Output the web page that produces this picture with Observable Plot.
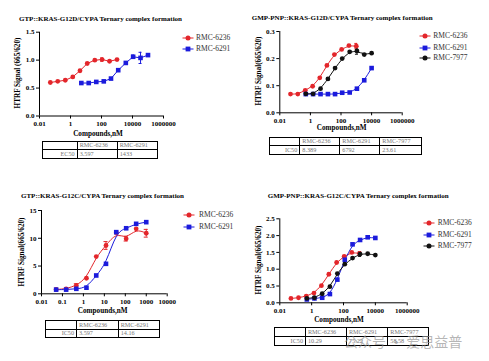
<!DOCTYPE html>
<html><head><meta charset="utf-8">
<script src="https://cdn.jsdelivr.net/npm/d3@7"></script>
<script src="https://cdn.jsdelivr.net/npm/@observablehq/plot@0.6"></script>
<style>
body{margin:0;background:#fff}
#root{position:relative;width:489px;height:361px;overflow:hidden;background:#fff;font-family:"Liberation Serif",serif;color:#000}
.t{position:absolute;white-space:nowrap;line-height:1}
.title{font-weight:bold;font-size:7px}
.axl{font-weight:bold;font-size:7.2px}
.leg{font-size:7.5px;color:#333}
.wm{font-family:"Noto Sans CJK SC",sans-serif;font-size:14px;color:rgba(150,150,150,0.7)}
table.tb{position:absolute;border-collapse:collapse;table-layout:fixed;font-size:6.2px;color:#777}
table.tb td{border:1px solid #000;padding:0 2px;line-height:1;white-space:nowrap;overflow:hidden}
table.tb td.first{text-align:right}
svg.plot{position:absolute}
</style></head>
<body><div id="root"></div>
<script>
// concentrations (nM)
const concA = [0.05, 0.15, 0.46, 1.4, 4.1, 12, 37, 110, 330, 1000];
const concB = [0.5, 1.5, 4.6, 14, 41, 120, 370, 1100, 3300, 10000];
const concC = [5, 15, 46, 140, 410, 1200, 3700, 11000, 33000, 100000];
const xTicksWide = [0.01, 1, 100, 10000, 1000000];
const xTicksNarrow = [0.01, 0.1, 1, 10, 100, 1000, 10000];
const names = ["RMC-6236", "RMC-6291", "RMC-7977"];

// Panel 1: GTP::KRAS-G12D/CYPA
const p1_6236 = [0.60, 0.62, 0.64, 0.70, 0.81, 0.94, 1.00, 1.01, 0.98, 1.01];
const p1_6236_err = [0, 0, 0, 0, 0, 0, 0, 0.03, 0, 0];
const p1_6291 = [0.59, 0.59, 0.61, 0.62, 0.67, 0.82, 0.95, 1.06, 1.04, 1.09];
const p1_6291_err = [0, 0, 0, 0, 0, 0, 0, 0.03, 0.1, 0];
const p1_yTicks = [0, 0.5, 1.0, 1.5];
const p1_table = [["", "RMC-6236", "RMC-6291"], ["EC50", "3.597", "1433"]];

// Panel 2: GMP-PNP::KRAS-G12D/CYPA
const p2_6236 = [0.069, 0.069, 0.083, 0.098, 0.129, 0.175, 0.215, 0.234, 0.248, 0.246];
const p2_6236_err = [0, 0, 0, 0, 0, 0, 0, 0, 0, 0.01];
const p2_6291 = [0.069, 0.069, 0.069, 0.069, 0.069, 0.074, 0.075, 0.089, 0.12, 0.165];
const p2_6291_err = [0, 0, 0, 0, 0, 0, 0, 0, 0, 0];
const p2_7977 = [0.07, 0.07, 0.089, 0.125, 0.165, 0.2, 0.225, 0.228, 0.215, 0.22];
const p2_7977_err = [0, 0, 0, 0, 0, 0, 0, 0.012, 0, 0];
const p2_yTicks = [0, 0.1, 0.2, 0.3];
const p2_table = [["", "RMC-6236", "RMC-6291", "RMC-7977"], ["IC50", "8.389", "6792", "23.61"]];

// Panel 3: GTP::KRAS-G12C/CYPA
const p3_6236 = [0.78, 0.9, 1.5, 2.8, 6.7, 8.7, 11.0, 9.9, 11.7, 10.9];
const p3_6236_err = [0, 0, 0.3, 0, 0, 0.7, 0, 0.4, 0, 0.7];
const p3_6291 = [0.75, 0.75, 0.9, 1.1, 3.3, 5.4, 11.1, 11.8, 12.6, 12.9];
const p3_6291_err = [0, 0, 0, 0, 0, 0, 0, 0, 0, 0];
const p3_yTicks = [0, 5, 10, 15];
const p3_table = [["", "RMC-6236", "RMC-6291"], ["IC50", "3.597", "14.16"]];

// Panel 4: GMP-PNP::KRAS-G12C/CYPA
const p4_6236 = [0.13, 0.15, 0.20, 0.29, 0.51, 0.85, 1.20, 1.38, 1.50, 1.47];
const p4_6236_err = [0, 0, 0, 0, 0, 0, 0, 0, 0, 0];
const p4_6291 = [0.10, 0.13, 0.15, 0.26, 0.69, 1.28, 1.74, 1.87, 1.95, 1.93];
const p4_6291_err = [0, 0, 0, 0, 0, 0, 0, 0, 0, 0];
const p4_7977 = [0.13, 0.15, 0.27, 0.48, 0.87, 1.15, 1.33, 1.45, 1.46, 1.42];
const p4_7977_err = [0, 0, 0, 0, 0, 0, 0, 0.07, 0, 0];
const p4_yTicks = [0, 0.5, 1.0, 1.5, 2.0, 2.5];
const p4_table = [["", "RMC-6236", "RMC-6291", "RMC-7977"], ["IC50", "10.29", "75.22", "58.58"]];

const RED = "#e3262b", BLUE = "#1b1bdc", BLACK = "#111111";
const root = document.getElementById("root");

function rows(conc, vals, err) {
  return conc.map((c, i) => ({c, v: vals[i], e: err[i]}));
}

function addText(cls, txt, x, y, anchor, rotate) {
  const d = document.createElement("div");
  d.className = "t " + cls;
  d.textContent = txt;
  d.style.left = x + "px";
  d.style.top = y + "px";
  let tr = "";
  if (anchor === "middle") tr = "translate(-50%,-50%)";
  else tr = "translate(0,-50%)";
  if (rotate) tr += " rotate(-90deg)";
  d.style.transform = tr;
  root.appendChild(d);
}

function panel(cfg) {
  const marks = [];
  marks.push(Plot.ruleX([cfg.xDomain[0]], {y1: cfg.yDomain[0], y2: cfg.yDomain[1], stroke: "#000", strokeWidth: 1}));
  marks.push(Plot.ruleY([cfg.yDomain[0]], {x1: cfg.xDomain[0], x2: cfg.xDomain[1], stroke: "#000", strokeWidth: 1}));
  for (const s of cfg.series) {
    const data = rows(s.conc, s.vals, s.err);
    marks.push(Plot.line(data, {x: "c", y: "v", stroke: s.color, strokeWidth: 1, curve: cfg.curve}));
  }
  for (const s of cfg.series) {
    const data = rows(s.conc, s.vals, s.err).filter(d => d.e > 0);
    marks.push(Plot.ruleX(data, {x: "c", y1: d => d.v - d.e, y2: d => d.v + d.e, stroke: s.color, strokeWidth: 1}));
    marks.push(Plot.ruleY(data, {y: d => d.v + d.e, x1: d => d.c / 1.25, x2: d => d.c * 1.25, stroke: s.color, strokeWidth: 1}));
    marks.push(Plot.ruleY(data, {y: d => d.v - d.e, x1: d => d.c / 1.25, x2: d => d.c * 1.25, stroke: s.color, strokeWidth: 1}));
  }
  for (const s of cfg.series) {
    const data = rows(s.conc, s.vals, s.err);
    marks.push(Plot.dot(data, {x: "c", y: "v", fill: s.color, symbol: s.symbol, r: s.symbol === "square" ? 2.6 : 2.4, stroke: "none"}));
  }
  const svg = Plot.plot({
    width: cfg.width, height: cfg.height,
    marginLeft: cfg.ml, marginRight: cfg.mr, marginTop: cfg.mt, marginBottom: cfg.mb,
    style: {fontFamily: "Liberation Serif", fontSize: "7px", fontWeight: "bold", background: "transparent", overflow: "visible", color: "#000"},
    x: {type: "log", domain: cfg.xDomain, ticks: cfg.xTicks, tickFormat: d => String(d), tickSize: 3, tickPadding: 2, label: null},
    y: {domain: cfg.yDomain, ticks: cfg.yTicks, tickFormat: cfg.yFormat, tickSize: 3, tickPadding: 2, label: null},
    marks
  });
  svg.classList.add("plot");
  svg.style.left = cfg.left + "px";
  svg.style.top = cfg.top + "px";
  root.appendChild(svg);

  addText("title", cfg.title, cfg.titleX, cfg.titleY, "start");
  addText("axl", cfg.ylabel, cfg.ylabX, cfg.ylabY, "middle", true);
  addText("axl", "Compounds,nM", cfg.xlabX, cfg.xlabY, "middle");

  // legend
  cfg.series.forEach((s, i) => {
    const y = cfg.legY[i];
    const ns = "http://www.w3.org/2000/svg";
    const g = document.createElementNS(ns, "svg");
    g.setAttribute("width", 12); g.setAttribute("height", 8);
    g.style.position = "absolute";
    g.style.left = (cfg.legX - 6) + "px";
    g.style.top = (y - 4) + "px";
    const ln = document.createElementNS(ns, "line");
    ln.setAttribute("x1", 0.5); ln.setAttribute("x2", 11.5); ln.setAttribute("y1", 4); ln.setAttribute("y2", 4);
    ln.setAttribute("stroke", s.color); ln.setAttribute("stroke-width", 1);
    g.appendChild(ln);
    let mk;
    if (s.symbol === "square") {
      mk = document.createElementNS(ns, "rect");
      mk.setAttribute("x", 3.6); mk.setAttribute("y", 1.6); mk.setAttribute("width", 4.8); mk.setAttribute("height", 4.8);
    } else {
      mk = document.createElementNS(ns, "circle");
      mk.setAttribute("cx", 6); mk.setAttribute("cy", 4); mk.setAttribute("r", 2.5);
    }
    mk.setAttribute("fill", s.color);
    g.appendChild(mk);
    root.appendChild(g);
    addText("leg", s.name, cfg.legTextX, y, "start");
  });

  // table
  const tb = document.createElement("table");
  tb.className = "tb";
  tb.style.left = cfg.tab.x + "px";
  tb.style.top = cfg.tab.y + "px";
  const total = cfg.tab.cols.reduce((a, b) => a + b, 0);
  tb.style.width = total + "px";
  const cg = document.createElement("colgroup");
  cfg.tab.cols.forEach(w => { const c = document.createElement("col"); c.style.width = w + "px"; cg.appendChild(c); });
  tb.appendChild(cg);
  cfg.tab.rows.forEach((r, ri) => {
    const tr = document.createElement("tr");
    tr.style.height = cfg.tab.rowH + "px";
    r.forEach((cell, ci) => {
      const td = document.createElement("td");
      td.textContent = cell;
      if (ci === 0) td.className = "first";
      tr.appendChild(td);
    });
    tb.appendChild(tr);
  });
  root.appendChild(tb);
}

const f1 = d3.format(".1f"), f0 = d3.format("d");

panel({
  left: 0, top: 0, width: 245, height: 180, ml: 39, mr: 82, mt: 31.7, mb: 64.5,
  xDomain: [0.01, 1000000], xTicks: xTicksWide, yDomain: [0, 1.5], yTicks: p1_yTicks, yFormat: f1,
  curve: "linear",
  series: [
    {name: names[0], conc: concA, vals: p1_6236, err: p1_6236_err, color: RED, symbol: "circle"},
    {name: names[1], conc: concC, vals: p1_6291, err: p1_6291_err, color: BLUE, symbol: "square"}
  ],
  title: "GTP::KRAS-G12D/CYPA Ternary complex formation", titleX: 19, titleY: 18.5,
  ylabel: "HTRF Signal (665/620)", ylabX: 19, ylabY: 73,
  xlabX: 98, xlabY: 135,
  legX: 187.7, legY: [37.7, 49], legTextX: 196,
  tab: {x: 42.3, y: 140.7, cols: [34.4, 40, 40.6], rowH: 8.5, rows: p1_table}
});

panel({
  left: 245, top: 0, width: 244, height: 180, ml: 34.3, mr: 87.3, mt: 31, mb: 67.7,
  xDomain: [0.01, 1000000], xTicks: xTicksWide, yDomain: [0, 0.3], yTicks: p2_yTicks, yFormat: f1,
  curve: "basis",
  series: [
    {name: names[0], conc: concA, vals: p2_6236, err: p2_6236_err, color: RED, symbol: "circle"},
    {name: names[1], conc: concB, vals: p2_6291, err: p2_6291_err, color: BLUE, symbol: "square"},
    {name: names[2], conc: concB, vals: p2_7977, err: p2_7977_err, color: BLACK, symbol: "circle"}
  ],
  title: "GMP-PNP::KRAS-G12D/CYPA Ternary complex formation", titleX: 251.7, titleY: 17.7,
  ylabel: "HTRF Signal(665/620)", ylabX: 260, ylabY: 71,
  xlabX: 341.7, xlabY: 129.3,
  legX: 425, legY: [36, 47.7, 58.3], legTextX: 433.3,
  tab: {x: 269.3, y: 136.7, cols: [30, 40, 40, 41.4], rowH: 8.7, rows: p2_table}
});

panel({
  left: 0, top: 180, width: 245, height: 180, ml: 41, mr: 78.3, mt: 30, mb: 66.7,
  xDomain: [0.01, 10000], xTicks: xTicksNarrow, yDomain: [0, 15], yTicks: p3_yTicks, yFormat: f0,
  curve: "basis",
  series: [
    {name: names[0], conc: concA, vals: p3_6236, err: p3_6236_err, color: RED, symbol: "circle"},
    {name: names[1], conc: concA, vals: p3_6291, err: p3_6291_err, color: BLUE, symbol: "square"}
  ],
  title: "GTP::KRAS-G12C/CYPA Ternary complex formation", titleX: 21, titleY: 196,
  ylabel: "HTRF Signal(665/620)", ylabX: 22.7, ylabY: 251.7,
  xlabX: 102.7, xlabY: 312.3,
  legX: 189, legY: [215, 226.7], legTextX: 199,
  tab: {x: 45, y: 320, cols: [31, 41.7, 41.3], rowH: 8.5, rows: p3_table}
});

panel({
  left: 245, top: 180, width: 244, height: 180, ml: 34.3, mr: 82.3, mt: 38.3, mb: 57.7,
  xDomain: [0.01, 1000000], xTicks: xTicksWide, yDomain: [0, 2.5], yTicks: p4_yTicks, yFormat: f1,
  curve: "basis",
  series: [
    {name: names[0], conc: concA, vals: p4_6236, err: p4_6236_err, color: RED, symbol: "circle"},
    {name: names[1], conc: concB, vals: p4_6291, err: p4_6291_err, color: BLUE, symbol: "square"},
    {name: names[2], conc: concB, vals: p4_7977, err: p4_7977_err, color: BLACK, symbol: "circle"}
  ],
  title: "GMP-PNP::KRAS-G12C/CYPA Ternary complex formation", titleX: 267.7, titleY: 196,
  ylabel: "HTRF Signal(665/620)", ylabX: 260, ylabY: 260,
  xlabX: 339, xlabY: 320.7,
  legX: 429.3, legY: [223.3, 234.7, 246.3], legTextX: 437.7,
  tab: {x: 274.3, y: 327, cols: [30.7, 41, 41.3, 40.4], rowH: 9.2, rows: p4_table}
});

// watermark
addText("wm", "公众号 · 爱思益普", 344, 341, "start");
</script>
</body></html>
